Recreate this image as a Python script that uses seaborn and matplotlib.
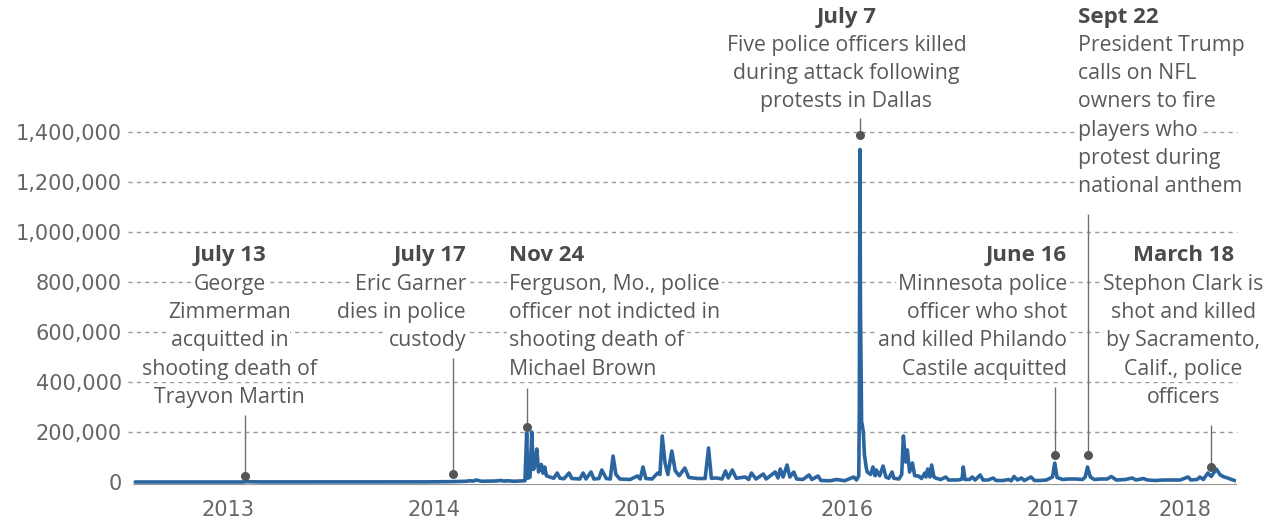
import pandas as pd
import matplotlib.pyplot as plt
import matplotlib.dates as mdates
import matplotlib.transforms as mtransforms
import seaborn as sns

# Daily tweets using #BlackLivesMatter
dates = [
    "2013-01-01", "2013-07-12", "2013-07-15", "2013-08-10", "2014-06-01", "2014-07-17",
    "2014-08-10", "2014-08-16", "2014-08-22", "2014-08-28", "2014-09-06", "2014-10-01",
    "2014-10-11", "2014-10-16", "2014-10-20", "2014-11-03", "2014-11-22", "2014-11-25",
    "2014-11-27", "2014-12-01", "2014-12-04", "2014-12-07", "2014-12-09", "2014-12-13",
    "2014-12-16", "2014-12-21", "2014-12-24", "2014-12-27", "2014-12-30",
    "2015-01-05", "2015-01-12", "2015-01-18", "2015-01-23", "2015-01-30", "2015-02-08",
    "2015-02-13", "2015-02-27", "2015-03-05", "2015-03-10", "2015-03-19", "2015-03-24",
    "2015-04-02", "2015-04-07", "2015-04-15", "2015-04-22", "2015-04-27", "2015-05-02",
    "2015-05-09", "2015-05-27", "2015-06-09", "2015-06-14", "2015-06-19", "2015-06-24",
    "2015-07-05", "2015-07-15", "2015-07-19", "2015-07-23", "2015-07-28", "2015-08-02",
    "2015-08-09", "2015-08-15", "2015-08-22", "2015-09-01", "2015-09-08", "2015-09-24",
    "2015-10-07", "2015-10-13", "2015-10-18", "2015-10-28", "2015-11-06", "2015-11-12",
    "2015-11-17", "2015-11-24", "2015-12-01", "2015-12-17", "2015-12-23", "2015-12-28",
    "2016-01-05", "2016-01-18", "2016-01-23", "2016-02-08", "2016-02-13", "2016-02-17",
    "2016-02-22", "2016-02-29", "2016-03-05", "2016-03-12", "2016-03-17", "2016-03-28",
    "2016-04-08", "2016-04-13", "2016-04-24", "2016-04-29", "2016-05-15", "2016-05-27",
    "2016-06-10", "2016-06-26", "2016-07-01", "2016-07-05", "2016-07-06", "2016-07-07",
    "2016-07-08", "2016-07-09", "2016-07-10", "2016-07-11", "2016-07-13", "2016-07-15",
    "2016-07-18", "2016-07-20", "2016-07-26", "2016-07-30", "2016-08-03", "2016-08-05",
    "2016-08-11", "2016-08-17", "2016-08-22", "2016-08-27", "2016-09-02", "2016-09-05",
    "2016-09-14", "2016-09-19", "2016-09-22", "2016-09-26", "2016-09-29", "2016-10-03",
    "2016-10-08", "2016-10-12", "2016-10-19", "2016-10-24", "2016-10-30", "2016-11-01",
    "2016-11-04", "2016-11-08", "2016-11-11", "2016-11-15", "2016-11-18", "2016-11-27",
    "2016-12-06", "2016-12-11", "2016-12-27",
    "2017-01-01", "2017-01-04", "2017-01-06", "2017-01-09", "2017-01-17", "2017-01-22",
    "2017-01-27", "2017-02-05", "2017-02-10", "2017-02-19", "2017-02-28", "2017-03-05",
    "2017-03-18", "2017-03-27", "2017-04-01", "2017-04-06", "2017-04-12", "2017-04-19",
    "2017-04-24", "2017-05-06", "2017-05-12", "2017-05-22", "2017-06-02", "2017-06-13",
    "2017-06-17", "2017-06-21", "2017-07-01", "2017-07-11", "2017-07-24", "2017-08-05",
    "2017-08-10", "2017-08-14", "2017-08-19", "2017-08-26", "2017-09-06", "2017-09-18",
    "2017-09-25", "2017-10-04", "2017-10-20", "2017-11-01", "2017-11-08", "2017-11-21",
    "2017-11-28", "2017-12-12", "2017-12-26",
    "2018-01-07", "2018-01-25", "2018-02-08", "2018-02-13", "2018-02-24", "2018-03-01",
    "2018-03-07", "2018-03-15", "2018-03-21", "2018-03-30", "2018-04-06", "2018-04-13",
    "2018-04-19", "2018-04-26", "2018-05-03",
]
tweets = [
    0, 0, 1500, 300, 500, 1500,
    3000, 5000, 3500, 8000, 3000, 4000,
    6000, 3500, 5000, 3000, 5000, 196000,
    15000, 20000, 200000, 50000, 60000, 132000,
    40000, 70000, 35000, 60000, 25000,
    20000, 15000, 36000, 15000, 13000, 36000,
    14000, 12000, 36000, 12000, 40000, 12000,
    14000, 48000, 14000, 12000, 104000, 30000,
    12000, 10000, 24000, 12000, 60000, 14000,
    12000, 36000, 30000, 184000, 76000, 30000,
    124000, 45000, 25000, 56000, 18000, 14000,
    14000, 136000, 15000, 16000, 12000, 44000,
    16000, 48000, 15000, 20000, 10000, 36000,
    12000, 32000, 12000, 40000, 16000, 52000,
    20000, 68000, 20000, 40000, 12000, 10000,
    28000, 10000, 24000, 6000, 5000, 10000,
    5000, 20000, 8000, 25000, 300000, 1330000,
    700000, 450000, 240000, 230000, 200000, 110000,
    60000, 40000, 30000, 60000, 25000, 48000,
    25000, 64000, 20000, 15000, 40000, 15000,
    12000, 30000, 184000, 80000, 128000, 40000,
    76000, 25000, 24000, 14000, 36000, 20000,
    52000, 20000, 68000, 20000, 16000, 10000,
    20000, 8000, 8000,
    10000, 12000, 60000, 10000, 10000, 20000,
    8000, 28000, 8000, 8000, 16000, 6000,
    6000, 10000, 5000, 22000, 8000, 16000,
    6000, 20000, 6000, 6000, 8000, 20000,
    76000, 18000, 10000, 12000, 12000, 10000,
    20000, 60000, 20000, 10000, 12000, 12000,
    22000, 8000, 10000, 16000, 8000, 14000,
    8000, 6000, 8000,
    8000, 8000, 20000, 8000, 10000, 20000,
    10000, 36000, 22000, 52000, 28000, 20000,
    16000, 10000, 5000,
]

# Annotated events: marker date, marker height, top of leader line
event_dates = ["2013-07-14", "2014-07-17", "2014-11-25", "2016-07-07",
               "2017-06-17", "2017-08-14", "2018-03-21"]
event_dots = [24000, 32000, 220000, 1388000, 108000, 108000, 60000]
event_tops = [268000, 496000, 376000, 1456000, 380000, 1072000, 228000]

event_headers = ["July 13", "July 17", "Nov 24", "July 7", "June 16", "Sept 22", "March 18"]
event_texts = [
    ["George", "Zimmerman", "acquitted in", "shooting death of", "Trayvon Martin"],
    ["Eric Garner", "dies in police", "custody"],
    ["Ferguson, Mo., police", "officer not indicted in", "shooting death of", "Michael Brown"],
    ["Five police officers killed", "during attack following", "protests in Dallas"],
    ["Minnesota police", "officer who shot", "and killed Philando", "Castile acquitted"],
    ["President Trump", "calls on NFL", "owners to fire", "players who",
     "protest during", "national anthem"],
    ["Stephon Clark is", "shot and killed", "by Sacramento,", "Calif., police", "officers"],
]

y_ticks = [0, 200000, 400000, 600000, 800000, 1000000, 1200000, 1400000]
year_labels = ["2013", "2014", "2015", "2016", "2017", "2018"]
year_label_dates = ["2013-06-14", "2014-06-14", "2015-06-14", "2016-06-14",
                    "2017-06-14", "2018-02-03"]

W, H = 1276, 522
LINE = "#2b65a0"
TEXT = "#595959"
NUM_FONT = ["DejaVu Sans"]
TXT_FONT = ["Open Sans", "DejaVu Sans"]

sns.set_style("white")
plt.rcParams["font.family"] = TXT_FONT

df = pd.DataFrame({"date": pd.to_datetime(dates), "tweets": tweets})

fig = plt.figure(figsize=(W / 100, H / 100), dpi=100)
ax = fig.add_axes([133 / W, (H - 484) / H, (1235.5 - 133) / W, 484 / H])

ax.set_xlim(pd.Timestamp("2012-12-28"), pd.Timestamp("2018-05-03"))
ax.set_ylim(-8000, 1928000)

# dashed gridlines running from the tick labels to the right edge
ax.hlines(y_ticks[1:], pd.Timestamp("2012-12-19"), pd.Timestamp("2018-05-06"),
          colors="#9a9a9a", linestyles=(0, (3, 3)), linewidth=1, zorder=0, clip_on=False)

sns.lineplot(data=df, x="date", y="tweets", ax=ax, color=LINE, linewidth=2.6, zorder=3)

for s in ["top", "right", "left"]:
    ax.spines[s].set_visible(False)
ax.spines["bottom"].set_color("#999999")

ax.set_yticks(y_ticks)
ax.set_yticklabels([f"{v:,}" for v in y_ticks], family=NUM_FONT)
ax.tick_params(axis="y", length=0, pad=8, labelsize=15, labelcolor="#666666")

ax.xaxis.set_major_locator(mdates.YearLocator())
ax.xaxis.set_minor_locator(mdates.MonthLocator())
ax.xaxis.set_major_formatter(plt.NullFormatter())
ax.tick_params(axis="x", which="major", length=9.5, width=1, color="#999999")
ax.tick_params(axis="x", which="minor", length=3, width=1, color="#999999")
ax.set_xlabel("")
ax.set_ylabel("")

trans = mtransforms.blended_transform_factory(ax.transData, ax.transAxes)
for lab, d in zip(year_labels, year_label_dates):
    ax.text(pd.Timestamp(d), -26 / 484, lab, transform=trans, ha="center", va="center",
            fontsize=15, color="#666666", family=NUM_FONT)

# leader lines and markers
ev = pd.to_datetime(event_dates)
ax.vlines(ev, event_dots, event_tops, colors="#707070", linewidth=1, zorder=4, clip_on=False)
ax.scatter(ev, event_dots, s=30, color="#555555", zorder=5, clip_on=False)

# annotation text: x anchor, alignment, y of header (pixels)
layout = [
    (229.5, "center", 256),
    (466, "right", 256),
    (509, "left", 256),
    (846.5, "center", 17),
    (1067, "right", 256),
    (1078, "left", 17),
    (1183.5, "center", 256),
]
step = 28.3
for (x, ha, y0), head, lines in zip(layout, event_headers, event_texts):
    fig.text(x / W, 1 - y0 / H, head, ha=ha, va="center", fontsize=16,
             fontweight="bold", color="#4a4a4a",
             bbox=dict(facecolor="white", edgecolor="none", pad=1.5), zorder=2)
    for i, line in enumerate(lines):
        fig.text(x / W, 1 - (y0 + step * (i + 1)) / H, line, ha=ha, va="center",
                 fontsize=15.3, color=TEXT,
                 bbox=dict(facecolor="white", edgecolor="none", pad=1.5), zorder=2)

fig.savefig("out.png", dpi=100)
